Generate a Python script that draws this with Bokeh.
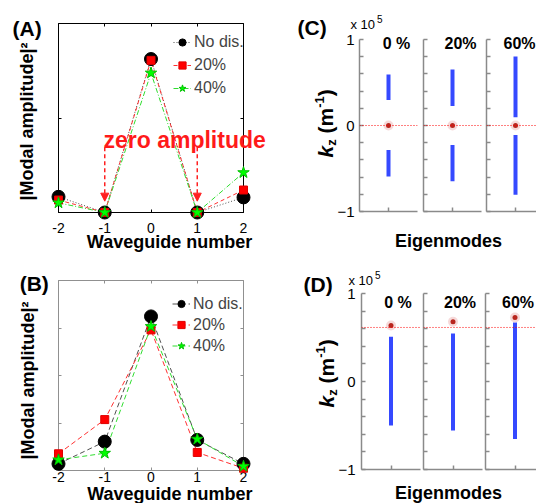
from math import pi
from bokeh.plotting import figure
from bokeh.layouts import row, column
from bokeh.models import (Range1d, LinearAxis, FixedTicker, Span, Arrow,
                          NormalHead, Legend, LegendItem)
from bokeh.core.properties import value
from bokeh.embed import file_html
from bokeh.resources import INLINE

FONT = "Liberation Sans"

# ---------------- data ----------------
waveguide = [-2, -1, 0, 1, 2]
waveguide_labels = ["-2", "-1", "0", "1", "2"]
series_names = ["No dis.", "20%", "40%"]
a_nodis = [0.083, 0.0, 0.812, 0.0, 0.080]
a_dis20 = [0.066, 0.0, 0.805, 0.0, 0.119]
a_dis40 = [0.051, 0.0, 0.738, 0.0, 0.211]
b_nodis = [0.035, 0.152, 0.811, 0.161, 0.035]
b_dis20 = [0.088, 0.268, 0.740, 0.095, 0.012]
b_dis40 = [0.056, 0.091, 0.758, 0.165, 0.022]
zero_amp_x = [-1, 1]
arrow_top = 0.345
arrow_tip = 0.06
amp_ticks_a = [0.5]
amp_ticks_b = [0.25, 0.5, 0.75]

disorder_labels = ["0 %", "20%", "60%"]
c_upper_lo = [0.297, 0.227, 0.095]
c_upper_hi = [0.592, 0.650, 0.802]
c_lower_lo = [-0.592, -0.647, -0.806]
c_lower_hi = [-0.285, -0.227, -0.111]
c_mode = [0.0, 0.0, 0.0]
c_level = 0.0
d_lo = [-0.501, -0.558, -0.652]
d_hi = [0.508, 0.546, 0.671]
d_mode = [0.637, 0.679, 0.728]
d_level = 0.614
kz_ticks = [-1, 0, 1]
kz_minor = [-0.8, -0.6, -0.4, -0.2, 0.2, 0.4, 0.6, 0.8]
mode_x = 1.0

# ---------------- helpers ----------------
MID = 0.35  # distance (in em) from the alphabetic baseline to the text middle


def base_fig(w, h, bl, br, bt, bb, xr, yr):
    p = figure(width=w, height=h, x_range=Range1d(*xr), y_range=Range1d(*yr),
               toolbar_location=None, output_backend="svg",
               x_axis_location=None, y_axis_location=None,
               min_border_left=bl, min_border_right=br,
               min_border_top=bt, min_border_bottom=bb)
    p.grid.visible = False
    p.background_fill_color = "white"
    p.border_fill_color = "white"
    return p


def mapper(frame, xr, yr):
    fl, fr, ft, fb = frame
    def f(px, py):
        return (xr[0] + (px - fl) / (fr - fl) * (xr[1] - xr[0]),
                yr[0] + (fb - py) / (fb - ft) * (yr[1] - yr[0]))
    return f


def txt(p, xy, text, size, style="normal", align="left", color="black", angle=0.0):
    p.text(x=[xy[0]], y=[xy[1]], text=[text], text_font=value(FONT),
           text_font_size=value(f"{size}px"), text_font_style=value(style),
           text_align=value(align), text_baseline=value("middle"),
           text_color=color, angle=angle, level="overlay")


def add_axis(p, side, ticks, minor, color, width=1.0, size=14, standoff=5,
             tick_len=4, overrides=None):
    ax = LinearAxis(ticker=FixedTicker(ticks=ticks, minor_ticks=minor))
    ax.axis_line_color = color
    ax.axis_line_width = width
    ax.major_tick_line_color = color
    ax.minor_tick_line_color = color
    ax.major_tick_line_width = width
    ax.minor_tick_line_width = width
    ax.major_tick_in = tick_len
    ax.major_tick_out = 0
    ax.minor_tick_in = tick_len
    ax.minor_tick_out = 0
    ax.major_label_text_font = FONT
    ax.major_label_text_font_size = f"{size}px"
    ax.major_label_text_color = "black"
    ax.major_label_standoff = standoff
    if overrides:
        ax.major_label_overrides = overrides
    p.add_layout(ax, side)
    return ax


# ---------------- panels A and B ----------------
def amp_panel(w, h, borders, frame, series, styles, box_color, amp_ticks,
              label_standoff, legend_loc, legend_dims):
    p = base_fig(w, h, *borders, (-2, 2), (0, 1))
    p.outline_line_color = box_color
    p.outline_line_width = 1
    add_axis(p, "below", waveguide, [], box_color, size=14, standoff=label_standoff,
             tick_len=3, overrides=dict(zip(waveguide, waveguide_labels)))
    add_axis(p, "above", [], [-1, 0, 1], box_color, tick_len=3)
    add_axis(p, "left", [], amp_ticks, box_color, tick_len=3)
    add_axis(p, "right", [], amp_ticks, box_color, tick_len=3)
    items = []
    for name, ys, st in zip(series_names, series, styles):
        rl = p.line(waveguide, ys, line_color=st["lc"], line_dash=st["dash"], line_width=1)
        rs = p.scatter(waveguide, ys, marker=st["marker"], size=st["size"],
                       fill_color=st["fc"], line_color=st["ec"], level="overlay")
        items.append(LegendItem(label=name, renderers=[rl, rs]))
    gh, sp = legend_dims
    leg = Legend(items=items, location=legend_loc, border_line_color=None,
                 background_fill_alpha=0, label_text_font=FONT,
                 label_text_font_size="16px", glyph_width=18, glyph_height=gh,
                 label_height=gh, spacing=sp, padding=0, margin=0, label_standoff=3)
    p.add_layout(leg)
    return p, mapper(frame, (-2, 2), (0, 1))


styles_a = [
    dict(lc="#505050", dash="1 2", marker="circle", size=13, fc="black", ec="black"),
    dict(lc="#ff3030", dash="4 3", marker="square", size=8, fc="#ff0000", ec="#e00000"),
    dict(lc="#30dd30", dash="5 2 1 2", marker="star", size=12, fc="#00ff00", ec="#00c000"),
]
styles_b = [
    dict(lc="#505050", dash="5 3", marker="circle", size=13, fc="black", ec="black"),
    dict(lc="#ff3030", dash="5 3", marker="square", size=8, fc="#ff0000", ec="#e00000"),
    dict(lc="#30dd30", dash="5 3", marker="star", size=12, fc="#00ff00", ec="#00c000"),
]

# A: page 0..290 x 0..254 ; frame 58..243 x 23..212
pa, mA = amp_panel(290, 254, (58, 47, 23, 42), (58, 243, 23, 212),
                   [a_nodis, a_dis20, a_dis40], styles_a, "black", amp_ticks_a,
                   10, (115, 114), (20, 3))
# B: page 0..290 x 254..503 ; frame 57..243 x 280..470
pb, mB = amp_panel(290, 249, (57, 47, 26, 33), (57, 243, 280, 470),
                   [b_nodis, b_dis20, b_dis40], styles_b, "#909090", amp_ticks_b,
                   1, (114, 115), (19, 2))

for xv in zero_amp_x:
    pa.add_layout(Arrow(x_start=xv, y_start=arrow_top, x_end=xv, y_end=arrow_tip,
                        line_color="#ff2020", line_width=1.5, line_dash="4 3",
                        end=NormalHead(size=8, fill_color="#ff2020",
                                       line_color="#ff2020")))
txt(pa, mA(103, 148 - MID * 23), "zero amplitude", 23, "bold", "left", "#ff1a1a")
txt(pa, mA(12, 27.5), "(A)", 21, "bold")
txt(pa, mA(169, 248 - MID * 18), "Waveguide number", 18, "bold", "center")
txt(pa, mA(33 - MID * 18, 121), "|Modal amplitude|\u00b2", 18, "bold", "center",
    angle=pi / 2)
txt(pb, mB(18, 283), "(B)", 21, "bold")
txt(pb, mB(169, 500 - MID * 18), "Waveguide number", 18, "bold", "center")
txt(pb, mB(33 - MID * 18, 380), "|Modal amplitude|\u00b2", 18, "bold", "center",
    angle=pi / 2)

# ---------------- panels C and D ----------------
AX_GRAY = "#8a8a8a"
BLUE = "#1f35ff"

# (text, font px, style, baseline shift right, advance up from start)
kz_parts = [("k", 21, "bold italic", 0.0, 0.0), ("z", 13, "bold", 3.5, 11.7),
            ("(m", 21, "bold", 0.0, 24.0), ("-1", 13, "bold", -8.0, 49.7),
            (")", 21, "bold", 0.0, 61.2)]


def eig_panel(i, w, h, borders, frame, bands, mode_val, level, title_off,
              title_py, first, label_standoff, full_w):
    fl, fr, ft, fb = frame
    xr = (0, 2 * (fr - fl) / full_w)
    p = base_fig(w, h, *borders, xr, (-1, 1))
    p.outline_line_color = None
    if first:
        add_axis(p, "left", kz_ticks, kz_minor, AX_GRAY, width=1.5, size=15,
                 standoff=label_standoff)
    else:
        add_axis(p, "left", [], kz_ticks + kz_minor, AX_GRAY, width=1.5)
    add_axis(p, "below", [], [mode_x], AX_GRAY, width=1.5)
    p.add_layout(Span(location=level, dimension="width", line_color="red",
                      line_dash="1 2", line_width=1))
    y0 = [b[0] for b in bands]
    y1 = [b[1] for b in bands]
    p.segment(x0=[mode_x] * len(bands), y0=y0, x1=[mode_x] * len(bands), y1=y1,
              line_color=BLUE, line_width=4, line_alpha=0.9)
    p.scatter([mode_x], [mode_val], size=10, fill_color="#f0c0c0",
              line_color=None, fill_alpha=0.6)
    p.scatter([mode_x], [mode_val], size=5, fill_color="#b8261e", line_color=None)
    m = mapper(frame, xr, (-1, 1))
    tx = mode_x + title_off * (xr[1] - xr[0]) / (fr - fl)
    txt(p, (tx, m(0, title_py)[1]), disorder_labels[i], 16, "bold", "center")
    return p, m


def kz_label(p, m, bx, start_y):
    for text, size, style, dx, dy in kz_parts:
        txt(p, m(bx + dx - MID * size, start_y - dy), text, size, style, "left",
            angle=pi / 2)


def label_fig(w, h, cx, base_y):
    p = base_fig(w, h, 0, 0, 0, 0, (0, w), (h, 0))
    p.outline_line_color = None
    txt(p, (cx, base_y - MID * 18), "Eigenmodes", 18, "bold", "center")
    return p


# C: page 290..536 x 0..228
c_frames = [(359, 417, 39, 211), (423, 481, 39, 211), (486, 536, 39, 211)]
c_sizes = [(130, (69, 3, 39, 17)), (64, (3, 3, 39, 17)), (52, (2, 0, 39, 17))]
c_title_off = [8, 8, 4]
c_figs = []
for i in range(3):
    bands = [(c_upper_lo[i], c_upper_hi[i]), (c_lower_lo[i], c_lower_hi[i])]
    p, m = eig_panel(i, c_sizes[i][0], 228, c_sizes[i][1], c_frames[i], bands,
                     c_mode[i], c_level, c_title_off[i], 43.3, i == 0, 5, 58.0)
    if i == 0:
        mc, c1 = m, p
    c_figs.append(p)
txt(c1, mc(297, 27), "(C)", 21, "bold")
txt(c1, mc(350, 24), "x 10", 13)
txt(c1, mc(376.5, 18), "5", 10)
kz_label(c1, mc, 332, 157)
c_eig = label_fig(246, 26, 158, 19.2)

# D: page 290..536 x 254..476
d_frames = [(361, 420, 293, 469), (423, 482, 293, 469), (485, 536, 293, 469)]
d_sizes = [(131, (71, 1, 39, 7)), (63, (2, 2, 39, 7)), (52, (1, 0, 39, 7))]
d_title_off = [7, 7, 3]
d_figs = []
for i in range(3):
    bands = [(d_lo[i], d_hi[i])]
    p, m = eig_panel(i, d_sizes[i][0], 222, d_sizes[i][1], d_frames[i], bands,
                     d_mode[i], d_level, d_title_off[i], 301.7, i == 0, 6, 59.0)
    if i == 0:
        md, d1 = m, p
    d_figs.append(p)
txt(d1, md(303, 284), "(D)", 21, "bold")
txt(d1, md(348, 280), "x 10", 13)
txt(d1, md(374.5, 274), "5", 10)
kz_label(d1, md, 333, 407)
d_eig = label_fig(246, 27, 158, 23.0)

layout = row(column(pa, pb),
             column(row(*c_figs), c_eig, row(*d_figs), d_eig))

open("out.html", "w").write(file_html(layout, INLINE))
